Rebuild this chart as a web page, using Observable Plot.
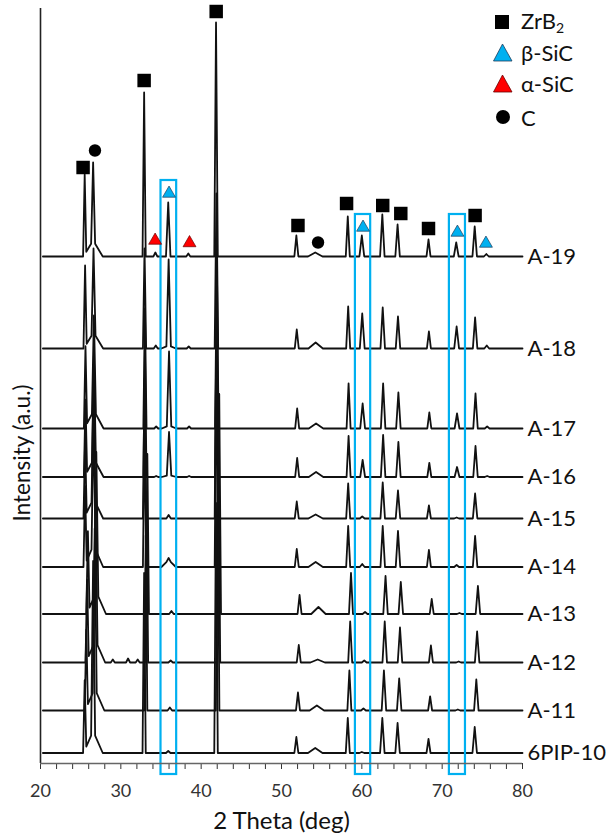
<!DOCTYPE html>
<html>
<head>
<meta charset="utf-8">
<script src="https://cdn.jsdelivr.net/npm/d3@7"></script>
<script src="https://cdn.jsdelivr.net/npm/@observablehq/plot@0.6"></script>
<style>
  html, body { margin: 0; padding: 0; background: #fff; }
  #wrap { position: relative; width: 609px; height: 837px; }
  #legend { position: absolute; left: 493px; top: 6px; font-family: Lato, sans-serif; font-size: 22px; color: #111; }
  #legend .row { display: flex; align-items: center; height: 31px; }
  #legend svg { width: 22px; height: 22px; margin-right: 6px; }
  #legend sub { font-size: 14px; vertical-align: -4px; }
</style>
</head>
<body>
<div id="wrap">
  <div id="chart"></div>
  <div id="legend">
    <div class="row"><svg viewBox="0 0 22 22"><rect x="2" y="4" width="14" height="14" fill="#000"/></svg><span>ZrB<sub>2</sub></span></div>
    <div class="row"><svg viewBox="0 0 22 22"><polygon points="9.5,2 19,19 0.5,19" fill="#00B0F0" stroke="#1f3c5a" stroke-width="0.8"/></svg><span>β-SiC</span></div>
    <div class="row"><svg viewBox="0 0 22 22"><polygon points="9.5,2 19,19 0.5,19" fill="#FF0000" stroke="#6a0000" stroke-width="0.8"/></svg><span>α-SiC</span></div>
    <div class="row" style="height:36px"><svg viewBox="0 0 22 22"><circle cx="10" cy="11" r="7" fill="#000"/></svg><span>C</span></div>
  </div>
</div>
<script>
// ---- data ----
const samples = ["A-19", "A-18", "A-17", "A-16", "A-15", "A-14", "A-13", "A-12", "A-11", "6PIP-10"];
const offsets = [507, 415, 335, 286.5, 245, 196.5, 149.5, 101, 53, 10.5];   // stacking offset (a.u.)
const shifts  = [0, 0.05, 0.1, 0.1, 0.05, 0.05, 0.4, 0.3, 0.2, 0];          // peak shift (deg)

// peak positions (2θ, deg) and half widths at base (deg)
const peakTheta     = [25.5, 26.55, 26.55, 32.9, 34.3, 35.9, 38.4, 41.85, 51.85, 54.2, 58.25, 60.0, 62.55, 64.45, 68.3, 71.75, 74.05, 75.5, 28.7, 30.6, 31.8, 35.9];
const peakHalfWidth = [0.2, 0.25, 1.2, 0.2, 0.25, 0.28, 0.25, 0.22, 0.25, 0.9, 0.25, 0.3, 0.28, 0.28, 0.25, 0.3, 0.28, 0.3, 0.25, 0.25, 0.25, 0.9];

// peak heights per sample (a.u.), same order as peakTheta
const hA19  = [80, 78, 16, 164, 4, 54, 3, 234, 21, 4, 40, 21, 42, 32, 17, 14, 30, 2.5, 0, 0, 0, 0];
const hA18  = [81, 84, 16, 100, 3, 86, 2, 155, 19, 6, 42, 35, 41, 32, 17, 22, 31, 3, 0, 0, 0, 3];
const hA17  = [80, 95, 18, 120, 2, 74, 2, 170, 20, 5, 45, 25, 45, 36, 16, 15, 35, 2, 0, 0, 0, 3];
const hA16  = [75, 105, 18, 130, 1, 43, 1, 190, 19, 5, 41, 17, 42, 35, 14, 10, 31, 1, 0, 0, 0, 2];
const hA15  = [75, 115, 20, 140, 0, 3.5, 0, 200, 17, 4, 35, 2, 36, 28, 13, 1, 25, 0, 0, 0, 0, 0];
const hA14  = [78, 130, 22, 150, 0, 2, 0, 210, 18, 5, 41, 3, 41, 36, 17, 2, 31, 0, 0, 0, 0, 7];
const hA13  = [80, 140, 22, 160, 0, 3, 0, 220, 19, 7, 41, 2, 38, 32, 15, 1, 28, 0, 0, 0, 0, 0];
const hA12  = [80, 150, 22, 170, 0, 2, 0, 230, 17.5, 3, 41, 2, 41, 35, 17, 1, 31, 0, 3, 4, 3, 0];
const hA11  = [78, 160, 22, 175, 0, 3, 0, 240, 18, 5, 40, 2, 40, 32, 14, 1, 31, 0, 0, 0, 0, 0];
const h6PIP = [70, 170, 22, 180, 0, 2, 0, 250, 16, 5, 35, 1, 35, 30, 14, 0, 26, 0, 0, 0, 0, 0];
const heights = [hA19, hA18, hA17, hA16, hA15, hA14, hA13, hA12, hA11, h6PIP];

// phase markers above the A-19 pattern: position and height above its baseline
const squareTheta = [25.3, 32.9, 41.87, 52.05, 58.1, 62.6, 64.85, 68.3, 74.1];
const squareRel   = [89, 176, 245, 31, 53, 51, 43, 28, 41];
const circleTheta = [26.78, 54.55];
const circleRel   = [106, 14];
const betaTheta   = [36.0, 60.15, 71.9, 75.45];
const betaRel     = [63, 29, 24, 13];
const alphaTheta  = [34.27, 38.55];
const alphaRel    = [16, 13.5];

// highlight boxes
const boxX1 = [35.0, 59.2, 70.9];
const boxX2 = [36.95, 61.1, 72.9];
const boxTop = [583, 549, 549];
const boxBottom = [-11, -11, -11];

const xStart = 20.3, xEnd = 80;

// ---- build line vertices from the peak tables ----
const points = [];
samples.forEach((name, i) => {
  const hs = heights[i], s = shifts[i];
  const xs = new Set([xStart, xEnd]);
  peakTheta.forEach((p, k) => {
    if (hs[k] > 0) {
      const w = peakHalfWidth[k];
      xs.add(p + s - w); xs.add(p + s); xs.add(p + s + w);
    }
  });
  const sorted = [...xs].filter(x => x >= xStart && x <= xEnd).sort((a, b) => a - b);
  for (const x of sorted) {
    let v = 0;
    peakTheta.forEach((p, k) => {
      const w = peakHalfWidth[k];
      const t = 1 - Math.abs(x - (p + s)) / w;
      if (t > 0) v += hs[k] * t;
    });
    points.push({sample: name, x, y: offsets[i] + v});
  }
});

const base19 = offsets[0];
const toMarks = (th, rel) => th.map((t, i) => ({x: t, y: base19 + rel[i]}));
const boxes = boxX1.map((x1, i) => ({x1, x2: boxX2[i], y1: boxBottom[i], y2: boxTop[i]}));
const labels = samples.map((s, i) => ({s, y: offsets[i]}));

const chart = Plot.plot({
  width: 609,
  height: 837,
  marginLeft: 40,
  marginRight: 87,
  marginTop: 8,
  marginBottom: 74,
  style: {fontFamily: "Lato, sans-serif", fontSize: "18px", color: "#333", background: "white", overflow: "visible"},
  x: {domain: [20, 80], ticks: d3.range(20, 81, 2), tickFormat: d => d % 10 === 0 ? String(d) : "", tickSize: 6, tickPadding: 15, label: null},
  y: {domain: [0, 755], axis: null},
  marks: [
    Plot.line(points, {x: "x", y: "y", z: "sample", stroke: "#111", strokeWidth: 1.8}),
    Plot.rect(boxes, {x1: "x1", x2: "x2", y1: "y1", y2: "y2", fill: "none", stroke: "#00B0F0", strokeWidth: 2.2}),
    Plot.ruleX([20], {stroke: "#222", strokeWidth: 1.6}),
    Plot.ruleY([0], {stroke: "#666", strokeWidth: 1.6}),
    Plot.dot(toMarks(squareTheta, squareRel), {x: "x", y: "y", symbol: "square", r: 7.6, fill: "#000", stroke: "none"}),
    Plot.dot(toMarks(circleTheta, circleRel), {x: "x", y: "y", symbol: "circle", r: 6.2, fill: "#000", stroke: "none"}),
    Plot.dot(toMarks(betaTheta, betaRel), {x: "x", y: "y", symbol: "triangle", r: 4.8, fill: "#00B0F0", stroke: "#1f3c5a", strokeWidth: 0.7}),
    Plot.dot(toMarks(alphaTheta, alphaRel), {x: "x", y: "y", symbol: "triangle", r: 4.8, fill: "#FF0000", stroke: "#6a0000", strokeWidth: 0.7}),
    Plot.text(labels, {x: () => 80, y: "y", text: "s", textAnchor: "start", lineAnchor: "middle", dx: 5, fontSize: 22, fill: "#111"}),
    Plot.text(["2 Theta (deg)"], {text: d => d, frameAnchor: "bottom", textAnchor: "middle", lineAnchor: "middle", dy: 58, fontSize: 24, fill: "#111"}),
    Plot.text(["Intensity (a.u.)"], {text: d => d, frameAnchor: "left", rotate: -90, textAnchor: "middle", lineAnchor: "middle", dx: -18, dy: 67, fontSize: 22.5, fill: "#111"})
  ]
});
document.getElementById("chart").appendChild(chart);
</script>
</body>
</html>
